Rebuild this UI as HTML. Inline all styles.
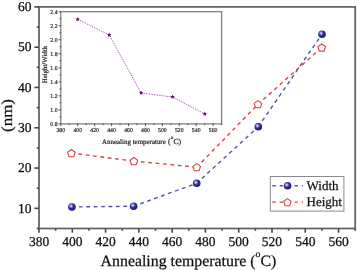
<!DOCTYPE html>
<html><head><meta charset="utf-8"><style>
html,body{margin:0;padding:0;background:#fff;overflow:hidden;width:357px;height:270px;}
svg{display:block;filter:contrast(1);} text{text-rendering:geometricPrecision;} text.m{stroke:#111;stroke-width:0.25px;} text.i{stroke:#333;stroke-width:0.22px;} .t{opacity:0.995;}
</style></head><body>
<svg width="357" height="270" viewBox="0 0 357 270">
<defs><radialGradient id="bg" cx="0.4" cy="0.4" r="0.65" fx="0.38" fy="0.36">
<stop offset="0" stop-color="#ececff"/><stop offset="0.28" stop-color="#8080d0"/><stop offset="0.5" stop-color="#2c2c96"/><stop offset="1" stop-color="#181872"/></radialGradient></defs>
<rect width="357" height="270" fill="#fff"/>
<g class="t">
<rect x="39.0" y="6.9" width="316.2" height="221.6" fill="none" stroke="#666666" stroke-width="1.8"/>
<line x1="34.4" y1="208.35" x2="39.0" y2="208.35" stroke="#484848" stroke-width="1.6"/>
<text transform="translate(31.4,212.55) scale(1,1.0)" text-anchor="end" font-size="13.5" font-family="Liberation Serif, serif" class="m" fill="#111">10</text>
<line x1="34.4" y1="168.06" x2="39.0" y2="168.06" stroke="#484848" stroke-width="1.6"/>
<text transform="translate(31.4,172.26) scale(1,1.0)" text-anchor="end" font-size="13.5" font-family="Liberation Serif, serif" class="m" fill="#111">20</text>
<line x1="34.4" y1="127.77" x2="39.0" y2="127.77" stroke="#484848" stroke-width="1.6"/>
<text transform="translate(31.4,131.97) scale(1,1.0)" text-anchor="end" font-size="13.5" font-family="Liberation Serif, serif" class="m" fill="#111">30</text>
<line x1="34.4" y1="87.48" x2="39.0" y2="87.48" stroke="#484848" stroke-width="1.6"/>
<text transform="translate(31.4,91.68) scale(1,1.0)" text-anchor="end" font-size="13.5" font-family="Liberation Serif, serif" class="m" fill="#111">40</text>
<line x1="34.4" y1="47.19" x2="39.0" y2="47.19" stroke="#484848" stroke-width="1.6"/>
<text transform="translate(31.4,51.39) scale(1,1.0)" text-anchor="end" font-size="13.5" font-family="Liberation Serif, serif" class="m" fill="#111">50</text>
<line x1="34.4" y1="6.90" x2="39.0" y2="6.90" stroke="#484848" stroke-width="1.6"/>
<text transform="translate(31.4,11.10) scale(1,1.0)" text-anchor="end" font-size="13.5" font-family="Liberation Serif, serif" class="m" fill="#111">60</text>
<line x1="36.7" y1="228.50" x2="39.0" y2="228.50" stroke="#484848" stroke-width="1.6"/>
<line x1="36.7" y1="188.21" x2="39.0" y2="188.21" stroke="#484848" stroke-width="1.6"/>
<line x1="36.7" y1="147.92" x2="39.0" y2="147.92" stroke="#484848" stroke-width="1.6"/>
<line x1="36.7" y1="107.63" x2="39.0" y2="107.63" stroke="#484848" stroke-width="1.6"/>
<line x1="36.7" y1="67.34" x2="39.0" y2="67.34" stroke="#484848" stroke-width="1.6"/>
<line x1="36.7" y1="27.05" x2="39.0" y2="27.05" stroke="#484848" stroke-width="1.6"/>
<line x1="39.00" y1="228.5" x2="39.00" y2="232.7" stroke="#484848" stroke-width="1.6"/>
<text transform="translate(39.00,246.2) scale(1,1.0)" text-anchor="middle" font-size="13.5" font-family="Liberation Serif, serif" class="m" fill="#111">380</text>
<line x1="72.28" y1="228.5" x2="72.28" y2="232.7" stroke="#484848" stroke-width="1.6"/>
<text transform="translate(72.28,246.2) scale(1,1.0)" text-anchor="middle" font-size="13.5" font-family="Liberation Serif, serif" class="m" fill="#111">400</text>
<line x1="105.57" y1="228.5" x2="105.57" y2="232.7" stroke="#484848" stroke-width="1.6"/>
<text transform="translate(105.57,246.2) scale(1,1.0)" text-anchor="middle" font-size="13.5" font-family="Liberation Serif, serif" class="m" fill="#111">420</text>
<line x1="138.85" y1="228.5" x2="138.85" y2="232.7" stroke="#484848" stroke-width="1.6"/>
<text transform="translate(138.85,246.2) scale(1,1.0)" text-anchor="middle" font-size="13.5" font-family="Liberation Serif, serif" class="m" fill="#111">440</text>
<line x1="172.14" y1="228.5" x2="172.14" y2="232.7" stroke="#484848" stroke-width="1.6"/>
<text transform="translate(172.14,246.2) scale(1,1.0)" text-anchor="middle" font-size="13.5" font-family="Liberation Serif, serif" class="m" fill="#111">460</text>
<line x1="205.42" y1="228.5" x2="205.42" y2="232.7" stroke="#484848" stroke-width="1.6"/>
<text transform="translate(205.42,246.2) scale(1,1.0)" text-anchor="middle" font-size="13.5" font-family="Liberation Serif, serif" class="m" fill="#111">480</text>
<line x1="238.71" y1="228.5" x2="238.71" y2="232.7" stroke="#484848" stroke-width="1.6"/>
<text transform="translate(238.71,246.2) scale(1,1.0)" text-anchor="middle" font-size="13.5" font-family="Liberation Serif, serif" class="m" fill="#111">500</text>
<line x1="271.99" y1="228.5" x2="271.99" y2="232.7" stroke="#484848" stroke-width="1.6"/>
<text transform="translate(271.99,246.2) scale(1,1.0)" text-anchor="middle" font-size="13.5" font-family="Liberation Serif, serif" class="m" fill="#111">520</text>
<line x1="305.27" y1="228.5" x2="305.27" y2="232.7" stroke="#484848" stroke-width="1.6"/>
<text transform="translate(305.27,246.2) scale(1,1.0)" text-anchor="middle" font-size="13.5" font-family="Liberation Serif, serif" class="m" fill="#111">540</text>
<line x1="338.56" y1="228.5" x2="338.56" y2="232.7" stroke="#484848" stroke-width="1.6"/>
<text transform="translate(338.56,246.2) scale(1,1.0)" text-anchor="middle" font-size="13.5" font-family="Liberation Serif, serif" class="m" fill="#111">560</text>
<line x1="55.64" y1="228.5" x2="55.64" y2="230.8" stroke="#484848" stroke-width="1.6"/>
<line x1="88.93" y1="228.5" x2="88.93" y2="230.8" stroke="#484848" stroke-width="1.6"/>
<line x1="122.21" y1="228.5" x2="122.21" y2="230.8" stroke="#484848" stroke-width="1.6"/>
<line x1="155.49" y1="228.5" x2="155.49" y2="230.8" stroke="#484848" stroke-width="1.6"/>
<line x1="188.78" y1="228.5" x2="188.78" y2="230.8" stroke="#484848" stroke-width="1.6"/>
<line x1="222.06" y1="228.5" x2="222.06" y2="230.8" stroke="#484848" stroke-width="1.6"/>
<line x1="255.35" y1="228.5" x2="255.35" y2="230.8" stroke="#484848" stroke-width="1.6"/>
<line x1="288.63" y1="228.5" x2="288.63" y2="230.8" stroke="#484848" stroke-width="1.6"/>
<line x1="321.92" y1="228.5" x2="321.92" y2="230.8" stroke="#484848" stroke-width="1.6"/>
<line x1="355.20" y1="228.5" x2="355.20" y2="230.8" stroke="#484848" stroke-width="1.6"/>
<text transform="translate(100.6,265.6) scale(1,1.0)" font-size="15.85" font-family="Liberation Serif, serif" class="m" fill="#111">Annealing temperature (<tspan font-size="9.83" dy="-8.3">o</tspan><tspan dy="8.3">C)</tspan></text>
<text transform="translate(11.9,115.5) rotate(-90) scale(1,0.9)" text-anchor="middle" font-size="17" font-family="Liberation Serif, serif" class="m" fill="#111">(nm)</text>
<line x1="71.4" y1="153.1" x2="133.9" y2="161.1" stroke="#d84444" stroke-width="1.4" stroke-dasharray="3.8,3.6" stroke-dashoffset="0.4"/>
<line x1="133.9" y1="161.1" x2="196.7" y2="167.2" stroke="#d84444" stroke-width="1.4" stroke-dasharray="3.8,3.6" stroke-dashoffset="0.4"/>
<line x1="196.7" y1="167.2" x2="258" y2="104.2" stroke="#d84444" stroke-width="1.4" stroke-dasharray="3.8,3.6" stroke-dashoffset="0.4"/>
<line x1="258" y1="104.2" x2="321.7" y2="47.5" stroke="#d84444" stroke-width="1.4" stroke-dasharray="3.8,3.6" stroke-dashoffset="0.4"/>
<line x1="71.9" y1="207" x2="133.6" y2="206.2" stroke="#5252a8" stroke-width="1.4" stroke-dasharray="3.8,3.6" stroke-dashoffset="0.4"/>
<line x1="133.6" y1="206.2" x2="196.7" y2="183.3" stroke="#5252a8" stroke-width="1.4" stroke-dasharray="3.8,3.6" stroke-dashoffset="0.4"/>
<line x1="196.7" y1="183.3" x2="258.3" y2="126.7" stroke="#5252a8" stroke-width="1.4" stroke-dasharray="3.8,3.6" stroke-dashoffset="0.4"/>
<line x1="258.3" y1="126.7" x2="322" y2="34.2" stroke="#5252a8" stroke-width="1.4" stroke-dasharray="3.8,3.6" stroke-dashoffset="0.4"/>
<polygon points="71.4,149.5 75.2,152.3 73.8,156.7 69.0,156.7 67.6,152.3" fill="#fff" stroke="#d84444" stroke-width="1.1"/>
<polygon points="133.9,157.5 137.7,160.3 136.3,164.7 131.5,164.7 130.1,160.3" fill="#fff" stroke="#d84444" stroke-width="1.1"/>
<polygon points="196.7,163.6 200.5,166.4 199.1,170.8 194.3,170.8 192.9,166.4" fill="#fff" stroke="#d84444" stroke-width="1.1"/>
<polygon points="258.0,100.6 261.8,103.4 260.4,107.8 255.6,107.8 254.2,103.4" fill="#fff" stroke="#d84444" stroke-width="1.1"/>
<polygon points="321.7,43.9 325.5,46.7 324.1,51.1 319.3,51.1 317.9,46.7" fill="#fff" stroke="#d84444" stroke-width="1.1"/>
<circle cx="71.9" cy="207" r="3.8" fill="url(#bg)"/>
<circle cx="133.6" cy="206.2" r="3.8" fill="url(#bg)"/>
<circle cx="196.7" cy="183.3" r="3.8" fill="url(#bg)"/>
<circle cx="258.3" cy="126.7" r="3.8" fill="url(#bg)"/>
<circle cx="322" cy="34.2" r="3.8" fill="url(#bg)"/>
<rect x="270.3" y="176.5" width="73.6" height="34.6" fill="#fff" stroke="#8a8a8a" stroke-width="1"/>
<line x1="272.3" y1="185.8" x2="303" y2="185.8" stroke="#5252a8" stroke-width="1.4" stroke-dasharray="3.4,4"/>
<line x1="272.3" y1="202.1" x2="303" y2="202.1" stroke="#d84444" stroke-width="1.4" stroke-dasharray="3.4,4"/>
<circle cx="287.6" cy="185.8" r="3.8" fill="url(#bg)"/>
<polygon points="287.4,198.6 291.1,201.3 289.7,205.7 285.1,205.7 283.7,201.3" fill="#fff" stroke="#d84444" stroke-width="1.1"/>
<text x="306.6" y="189.8" font-size="13" font-family="Liberation Serif, serif" class="m" fill="#111">Width</text>
<text x="306.6" y="205.9" font-size="13" font-family="Liberation Serif, serif" class="m" fill="#111">Height</text>
<rect x="60.8" y="11.7" width="160.8" height="112.2" fill="#fff" stroke="#808080" stroke-width="1.3"/>
<line x1="58.599999999999994" y1="123.90" x2="61.199999999999996" y2="123.90" stroke="#505050" stroke-width="1"/>
<text x="57.6" y="125.90" text-anchor="end" font-size="5.8" font-family="Liberation Serif, serif" class="i" fill="#333">0.8</text>
<line x1="58.599999999999994" y1="109.88" x2="61.199999999999996" y2="109.88" stroke="#505050" stroke-width="1"/>
<text x="57.6" y="111.88" text-anchor="end" font-size="5.8" font-family="Liberation Serif, serif" class="i" fill="#333">1.0</text>
<line x1="58.599999999999994" y1="95.85" x2="61.199999999999996" y2="95.85" stroke="#505050" stroke-width="1"/>
<text x="57.6" y="97.85" text-anchor="end" font-size="5.8" font-family="Liberation Serif, serif" class="i" fill="#333">1.2</text>
<line x1="58.599999999999994" y1="81.83" x2="61.199999999999996" y2="81.83" stroke="#505050" stroke-width="1"/>
<text x="57.6" y="83.83" text-anchor="end" font-size="5.8" font-family="Liberation Serif, serif" class="i" fill="#333">1.4</text>
<line x1="58.599999999999994" y1="67.80" x2="61.199999999999996" y2="67.80" stroke="#505050" stroke-width="1"/>
<text x="57.6" y="69.80" text-anchor="end" font-size="5.8" font-family="Liberation Serif, serif" class="i" fill="#333">1.6</text>
<line x1="58.599999999999994" y1="53.78" x2="61.199999999999996" y2="53.78" stroke="#505050" stroke-width="1"/>
<text x="57.6" y="55.78" text-anchor="end" font-size="5.8" font-family="Liberation Serif, serif" class="i" fill="#333">1.8</text>
<line x1="58.599999999999994" y1="39.75" x2="61.199999999999996" y2="39.75" stroke="#505050" stroke-width="1"/>
<text x="57.6" y="41.75" text-anchor="end" font-size="5.8" font-family="Liberation Serif, serif" class="i" fill="#333">2.0</text>
<line x1="58.599999999999994" y1="25.73" x2="61.199999999999996" y2="25.73" stroke="#505050" stroke-width="1"/>
<text x="57.6" y="27.73" text-anchor="end" font-size="5.8" font-family="Liberation Serif, serif" class="i" fill="#333">2.2</text>
<line x1="58.599999999999994" y1="11.70" x2="61.199999999999996" y2="11.70" stroke="#505050" stroke-width="1"/>
<text x="57.6" y="13.70" text-anchor="end" font-size="5.8" font-family="Liberation Serif, serif" class="i" fill="#333">2.4</text>
<line x1="59.5" y1="116.89" x2="61.199999999999996" y2="116.89" stroke="#505050" stroke-width="1"/>
<line x1="59.5" y1="102.86" x2="61.199999999999996" y2="102.86" stroke="#505050" stroke-width="1"/>
<line x1="59.5" y1="88.84" x2="61.199999999999996" y2="88.84" stroke="#505050" stroke-width="1"/>
<line x1="59.5" y1="74.81" x2="61.199999999999996" y2="74.81" stroke="#505050" stroke-width="1"/>
<line x1="59.5" y1="60.79" x2="61.199999999999996" y2="60.79" stroke="#505050" stroke-width="1"/>
<line x1="59.5" y1="46.76" x2="61.199999999999996" y2="46.76" stroke="#505050" stroke-width="1"/>
<line x1="59.5" y1="32.74" x2="61.199999999999996" y2="32.74" stroke="#505050" stroke-width="1"/>
<line x1="59.5" y1="18.71" x2="61.199999999999996" y2="18.71" stroke="#505050" stroke-width="1"/>
<line x1="60.80" y1="123.5" x2="60.80" y2="126.10000000000001" stroke="#505050" stroke-width="1"/>
<text x="60.80" y="131.5" text-anchor="middle" font-size="5.8" font-family="Liberation Serif, serif" class="i" fill="#333">380</text>
<line x1="77.73" y1="123.5" x2="77.73" y2="126.10000000000001" stroke="#505050" stroke-width="1"/>
<text x="77.73" y="131.5" text-anchor="middle" font-size="5.8" font-family="Liberation Serif, serif" class="i" fill="#333">400</text>
<line x1="94.65" y1="123.5" x2="94.65" y2="126.10000000000001" stroke="#505050" stroke-width="1"/>
<text x="94.65" y="131.5" text-anchor="middle" font-size="5.8" font-family="Liberation Serif, serif" class="i" fill="#333">420</text>
<line x1="111.58" y1="123.5" x2="111.58" y2="126.10000000000001" stroke="#505050" stroke-width="1"/>
<text x="111.58" y="131.5" text-anchor="middle" font-size="5.8" font-family="Liberation Serif, serif" class="i" fill="#333">440</text>
<line x1="128.51" y1="123.5" x2="128.51" y2="126.10000000000001" stroke="#505050" stroke-width="1"/>
<text x="128.51" y="131.5" text-anchor="middle" font-size="5.8" font-family="Liberation Serif, serif" class="i" fill="#333">460</text>
<line x1="145.43" y1="123.5" x2="145.43" y2="126.10000000000001" stroke="#505050" stroke-width="1"/>
<text x="145.43" y="131.5" text-anchor="middle" font-size="5.8" font-family="Liberation Serif, serif" class="i" fill="#333">480</text>
<line x1="162.36" y1="123.5" x2="162.36" y2="126.10000000000001" stroke="#505050" stroke-width="1"/>
<text x="162.36" y="131.5" text-anchor="middle" font-size="5.8" font-family="Liberation Serif, serif" class="i" fill="#333">500</text>
<line x1="179.28" y1="123.5" x2="179.28" y2="126.10000000000001" stroke="#505050" stroke-width="1"/>
<text x="179.28" y="131.5" text-anchor="middle" font-size="5.8" font-family="Liberation Serif, serif" class="i" fill="#333">520</text>
<line x1="196.21" y1="123.5" x2="196.21" y2="126.10000000000001" stroke="#505050" stroke-width="1"/>
<text x="196.21" y="131.5" text-anchor="middle" font-size="5.8" font-family="Liberation Serif, serif" class="i" fill="#333">540</text>
<line x1="213.14" y1="123.5" x2="213.14" y2="126.10000000000001" stroke="#505050" stroke-width="1"/>
<text x="213.14" y="131.5" text-anchor="middle" font-size="5.8" font-family="Liberation Serif, serif" class="i" fill="#333">560</text>
<line x1="69.26" y1="123.5" x2="69.26" y2="125.2" stroke="#505050" stroke-width="1"/>
<line x1="86.19" y1="123.5" x2="86.19" y2="125.2" stroke="#505050" stroke-width="1"/>
<line x1="103.12" y1="123.5" x2="103.12" y2="125.2" stroke="#505050" stroke-width="1"/>
<line x1="120.04" y1="123.5" x2="120.04" y2="125.2" stroke="#505050" stroke-width="1"/>
<line x1="136.97" y1="123.5" x2="136.97" y2="125.2" stroke="#505050" stroke-width="1"/>
<line x1="153.89" y1="123.5" x2="153.89" y2="125.2" stroke="#505050" stroke-width="1"/>
<line x1="170.82" y1="123.5" x2="170.82" y2="125.2" stroke="#505050" stroke-width="1"/>
<line x1="187.75" y1="123.5" x2="187.75" y2="125.2" stroke="#505050" stroke-width="1"/>
<line x1="204.67" y1="123.5" x2="204.67" y2="125.2" stroke="#505050" stroke-width="1"/>
<line x1="221.60" y1="123.5" x2="221.60" y2="125.2" stroke="#505050" stroke-width="1"/>
<text x="102" y="143.6" font-size="6.95" font-family="Liberation Serif, serif" class="i" fill="#222">Annealing temperature</text>
<text x="168" y="143.6" font-size="7.8" font-family="Liberation Serif, serif" class="i" fill="#222">(<tspan font-size="5.2" dy="-4.9" dx="0.2">o</tspan><tspan dy="4.9">C)</tspan></text>
<text transform="translate(47.3,64.6) rotate(-90)" text-anchor="middle" font-size="6.8" font-family="Liberation Serif, serif" class="i" fill="#222">Height/Width</text>
<polyline points="77.7,19.3 109.2,34.9 141.1,93.0 172.6,97.0 204.8,114.0" fill="none" stroke="#b050c0" stroke-width="1" stroke-dasharray="1.4,1.2"/>
<polygon points="77.70,17.05 78.35,18.41 79.84,18.60 78.75,19.64 79.02,21.12 77.70,20.40 76.38,21.12 76.65,19.64 75.56,18.60 77.05,18.41" fill="#5a1060"/>
<polygon points="109.20,32.65 109.85,34.01 111.34,34.20 110.25,35.24 110.52,36.72 109.20,36.00 107.88,36.72 108.15,35.24 107.06,34.20 108.55,34.01" fill="#5a1060"/>
<polygon points="141.10,90.75 141.75,92.11 143.24,92.30 142.15,93.34 142.42,94.82 141.10,94.10 139.78,94.82 140.05,93.34 138.96,92.30 140.45,92.11" fill="#5a1060"/>
<polygon points="172.60,94.75 173.25,96.11 174.74,96.30 173.65,97.34 173.92,98.82 172.60,98.10 171.28,98.82 171.55,97.34 170.46,96.30 171.95,96.11" fill="#5a1060"/>
<polygon points="204.80,111.75 205.45,113.11 206.94,113.30 205.85,114.34 206.12,115.82 204.80,115.10 203.48,115.82 203.75,114.34 202.66,113.30 204.15,113.11" fill="#5a1060"/>
</g>
</svg>
</body></html>
